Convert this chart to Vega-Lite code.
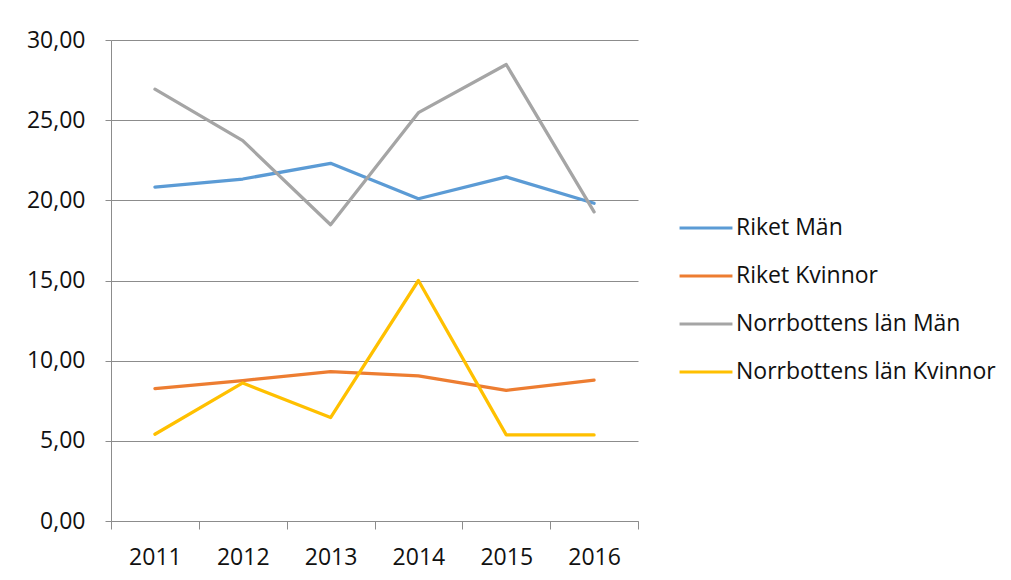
{
  "$schema": "https://vega.github.io/schema/vega-lite/v6.json",
  "width": 527,
  "height": 481,
  "autosize": "none",
  "padding": {"left": 111, "top": 40, "right": 373, "bottom": 59},
  "background": "white",
  "config": {
    "locale": {"number": {"decimal": ",", "thousands": " ", "grouping": [3], "currency": ["", " kr"]}},
    "font": "Open Sans",
    "view": {"stroke": null},
    "axis": {"labelFont": "Open Sans", "labelColor": "#111111", "labelFontSize": 23}
  },
  "data": {
    "values": [
      {"year": "2011", "series": "Riket Män", "value": 20.82},
      {"year": "2012", "series": "Riket Män", "value": 21.33},
      {"year": "2013", "series": "Riket Män", "value": 22.31},
      {"year": "2014", "series": "Riket Män", "value": 20.10},
      {"year": "2015", "series": "Riket Män", "value": 21.46},
      {"year": "2016", "series": "Riket Män", "value": 19.82},
      {"year": "2011", "series": "Riket Kvinnor", "value": 8.26},
      {"year": "2012", "series": "Riket Kvinnor", "value": 8.76},
      {"year": "2013", "series": "Riket Kvinnor", "value": 9.32},
      {"year": "2014", "series": "Riket Kvinnor", "value": 9.05},
      {"year": "2015", "series": "Riket Kvinnor", "value": 8.15},
      {"year": "2016", "series": "Riket Kvinnor", "value": 8.78},
      {"year": "2011", "series": "Norrbottens län Män", "value": 26.93},
      {"year": "2012", "series": "Norrbottens län Män", "value": 23.72},
      {"year": "2013", "series": "Norrbottens län Män", "value": 18.48},
      {"year": "2014", "series": "Norrbottens län Män", "value": 25.47},
      {"year": "2015", "series": "Norrbottens län Män", "value": 28.47},
      {"year": "2016", "series": "Norrbottens län Män", "value": 19.28},
      {"year": "2011", "series": "Norrbottens län Kvinnor", "value": 5.41},
      {"year": "2012", "series": "Norrbottens län Kvinnor", "value": 8.61},
      {"year": "2013", "series": "Norrbottens län Kvinnor", "value": 6.45},
      {"year": "2014", "series": "Norrbottens län Kvinnor", "value": 15.0},
      {"year": "2015", "series": "Norrbottens län Kvinnor", "value": 5.37},
      {"year": "2016", "series": "Norrbottens län Kvinnor", "value": 5.37}
    ]
  },
  "mark": {"type": "line", "strokeWidth": 3.25, "strokeCap": "round", "strokeJoin": "round"},
  "encoding": {
    "x": {
      "field": "year", "type": "ordinal",
      "scale": {"paddingInner": 0, "paddingOuter": 0},
      "axis": {
        "title": null, "labelAngle": 0, "tickBand": "extent",
        "domainColor": "#8c8c8c", "tickColor": "#8c8c8c", "tickSize": 8,
        "labelPadding": 17, "grid": false
      }
    },
    "y": {
      "field": "value", "type": "quantitative",
      "scale": {"domain": [0, 30], "nice": false},
      "axis": {
        "title": null, "values": [0, 5, 10, 15, 20, 25, 30], "format": ".2f",
        "gridColor": "#8c8c8c", "gridWidth": 1, "domainColor": "#8c8c8c",
        "tickColor": "#8c8c8c", "tickSize": 6, "labelPadding": 20
      }
    },
    "color": {
      "field": "series", "type": "nominal",
      "scale": {
        "domain": ["Riket Män", "Riket Kvinnor", "Norrbottens län Män", "Norrbottens län Kvinnor"],
        "range": ["#5B9BD5", "#ED7D31", "#A5A5A5", "#FFC000"]
      },
      "legend": {
        "title": null, "orient": "none", "legendX": 567, "legendY": 160,
        "symbolType": "stroke", "symbolSize": 2800, "symbolStrokeWidth": 3,
        "labelFontSize": 23, "labelFont": "Open Sans", "labelColor": "#111111",
        "labelOffset": 2, "rowPadding": 8, "labelLimit": 400
      }
    }
  }
}
